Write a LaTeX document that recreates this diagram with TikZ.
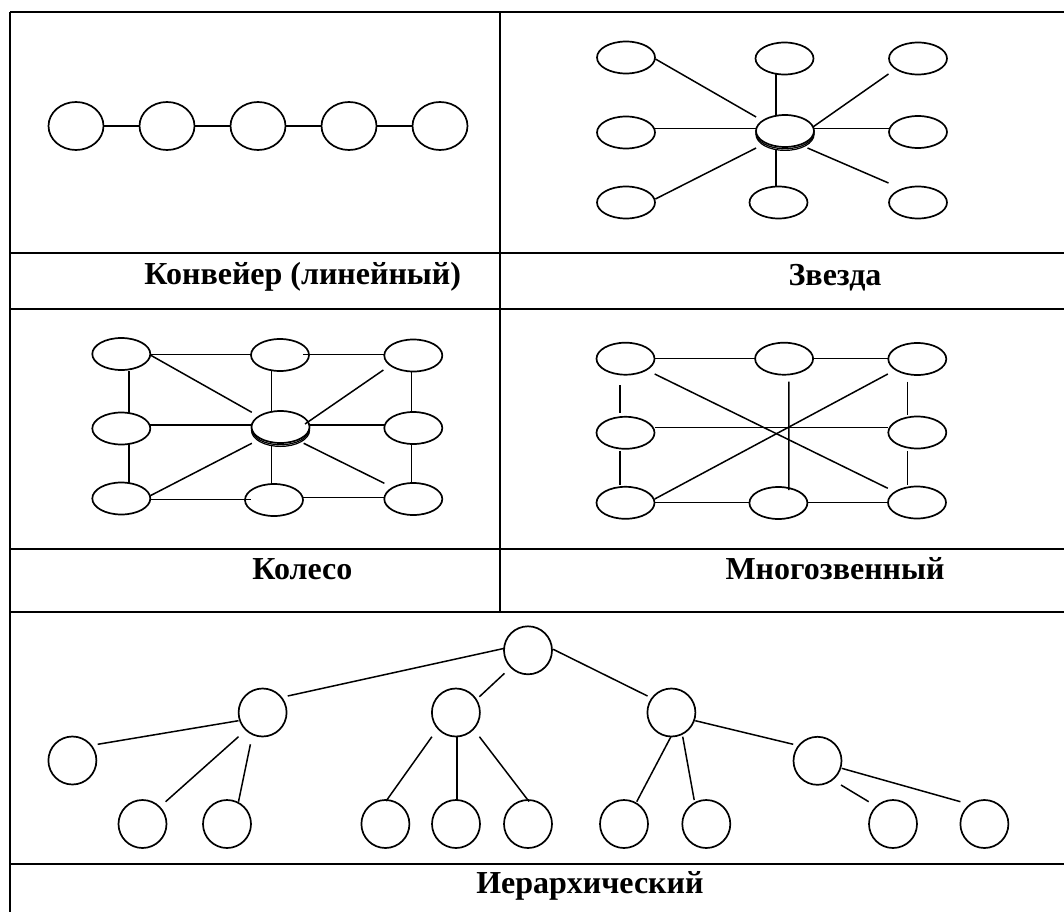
\documentclass[tikz,border=0pt]{standalone}
\usepackage{fontspec}
\setmainfont{Liberation Serif}
\usetikzlibrary{shapes.geometric,calc}
\newcommand{\conn}[4]{\draw ($(#1)+(#2)$) -- ($(#3)+(#4)$);}
\begin{document}
\begin{tikzpicture}[x=1pt,y=-1pt,line width=1.5pt,
  el/.style={draw,ellipse,fill=white,line width=1.7pt,inner sep=0pt,outer sep=0pt,minimum width=58pt,minimum height=32pt},
  lin/.style={el,minimum width=55pt,minimum height=48pt},
  cir/.style={draw,circle,fill=white,line width=1.7pt,inner sep=0pt,outer sep=0pt,minimum size=48pt},
  captxt/.style={anchor=base,inner sep=0pt,font=\fontsize{32}{38}\selectfont\bfseries},
  gridline/.style={line width=1.8pt}]
\useasboundingbox (0,0) rectangle (1064,912);
% table
\draw[gridline] (10,12) -- (1064,12);
\draw[gridline] (10,12) -- (10,912);
\draw[gridline] (500,12) -- (500,612);
\foreach \yy in {252.7,309.3,549.3,612,864} \draw[gridline] (10,\yy) -- (1064,\yy);
% captions
\node[captxt] (t1) at (302.8,284) {Конвейер (линейный)};
\node[captxt] (t2) at (835,285) {Звезда};
\node[captxt] (t3) at (302.4,579.3) {Колесо};
\node[captxt] (t4) at (835,579.3) {Многозвенный};
\node[captxt] (t5) at (589.9,893.3) {Иерархический};
% linear
\foreach \i/\xx in {1/76,2/167,3/258,4/349,5/440} \node[lin] (l\i) at (\xx,126) {};
\draw (l1) -- (l2); \draw (l2) -- (l3); \draw (l3) -- (l4); \draw (l4) -- (l5);
% star
\node[el,line width=1.2pt] (s0b) at (785,134.4) {};
\node[el,line width=1.2pt] (s0a) at (785,132.8) {};
\node[el] (s0) at (785,131) {};
\node[el] (s1) at (626,57.5) {};
\node[el] (s2) at (784.5,58.5) {};
\node[el] (s3) at (918,58.5) {};
\node[el] (s4) at (626,132.5) {};
\node[el] (s5) at (918,132) {};
\node[el] (s6) at (626,202.5) {};
\node[el] (s7) at (778.5,202.5) {};
\node[el] (s8) at (918,202.5) {};
\conn{s1}{29.4,1.5}{s0}{-28.9,-14}
\conn{s2}{-8.6,15.5}{s0}{-9.1,-16}
\conn{s3}{-29.5,15.5}{s0}{27.9,-4}
\conn{s4}{29.4,-4.2}{s0}{-29,-2.7}
\conn{s0}{27.9,-2.7}{s5}{-29.5,-3.7}
\conn{s6}{29.4,-3.5}{s0}{-28.9,17}
\conn{s0}{-9.1,19}{s7}{-2.6,-16.5}
\conn{s0}{22.5,17}{s8}{-29.5,-19.5}
% wheel
\node[el,line width=1.2pt] (w0b) at (280.5,430.4) {};
\node[el,line width=1.2pt] (w0a) at (280.5,428.8) {};
\node[el] (w0) at (280.5,427) {};
\node[el] (w1) at (121.3,354) {};
\node[el] (w2) at (280,355) {};
\node[el] (w3) at (413.3,355.5) {};
\node[el] (w4) at (121.3,428.5) {};
\node[el] (w5) at (413.3,428) {};
\node[el] (w6) at (121.3,498.5) {};
\node[el] (w7) at (274,500) {};
\node[el] (w8) at (413.3,499) {};
\conn{w1}{29,0.3}{w2}{-28.9,-0.7}
\conn{w2}{23,-0.7}{w3}{-28.9,-1.2}
\conn{w1}{29,1}{w0}{-28.7,-14.7}
\conn{w2}{-8.6,15}{w0}{-9.1,-15.3}
\conn{w3}{-29.9,14.5}{w0}{24.5,-3}
\conn{w1}{7.6,17}{w4}{7.6,-15.2}
\conn{w3}{-1.7,15.5}{w5}{-1.7,-15}
\conn{w4}{29,-3.5}{w0}{-28.7,-2}
\conn{w0}{28.9,-2}{w5}{-28.9,-3}
\conn{w4}{7.6,15.5}{w6}{7.6,-15.5}
\conn{w5}{-1.7,16}{w8}{-1.7,-16}
\conn{w6}{29,-2.8}{w0}{-28.7,16.3}
\conn{w0}{-9.1,18.7}{w7}{-2.6,-16.7}
\conn{w0}{23.2,16.3}{w8}{-28.9,-15.7}
\conn{w6}{29,0.8}{w7}{-22.9,-0.7}
\conn{w7}{29,-2.7}{w8}{-28.9,-1.7}
% multi-link
\node[el] (m1) at (625.5,358.7) {};
\node[el] (m2) at (784.1,358.7) {};
\node[el] (m3) at (917.3,359) {};
\node[el] (m4) at (625.5,432.8) {};
\node[el] (m5) at (917.3,432.5) {};
\node[el] (m6) at (625.5,502.8) {};
\node[el] (m7) at (778.4,503) {};
\node[el] (m8) at (917,502.5) {};
\conn{m1}{29.2,-0.4}{m2}{-28.7,-0.4}
\conn{m2}{28.8,-0.4}{m3}{-29.5,-0.7}
\conn{m1}{-5.7,26.3}{m4}{-5.7,-19.5}
\conn{m4}{-5.7,18.2}{m6}{-5.7,-17.8}
\conn{m3}{-9.8,22.7}{m5}{-9.8,-17.5}
\conn{m5}{-9.8,18.5}{m8}{-9.5,-17.5}
\conn{m4}{29.2,-5.1}{m5}{-29.5,-4.8}
\conn{m6}{29.2,-0.5}{m7}{-29.1,-0.7}
\conn{m7}{29.1,-0.7}{m8}{-29.2,-0.2}
\conn{m1}{29.2,15.3}{m8}{-29.2,-14.2}
\conn{m6}{29.2,-3.8}{m3}{-29.5,15}
\conn{m2}{4.7,23}{m7}{10.4,-13}
% hierarchy
\node[cir] (hr) at (528,650.3) {};
\node[cir] (hb) at (262.6,712.5) {};
\node[cir] (ha) at (72.4,760.5) {};
\node[cir] (hc) at (142.5,824) {};
\node[cir] (hd) at (227,824) {};
\node[cir] (he) at (455.9,712.5) {};
\node[cir] (hf) at (385.4,824) {};
\node[cir] (hg) at (456,824) {};
\node[cir] (hh) at (528,824) {};
\node[cir] (hi) at (671.4,712.5) {};
\node[cir] (hj) at (817.5,760.8) {};
\node[cir] (hk) at (624,824) {};
\node[cir] (hl) at (706.3,824) {};
\node[cir] (hm) at (893,824) {};
\node[cir] (hn) at (984.4,824) {};
\conn{hr}{-23.5,-2}{hb}{25.1,-16.5}
\conn{hb}{-24.1,8.2}{ha}{25.3,-16.2}
\conn{hb}{-24.1,24.2}{hc}{23.1,-22.3}
\conn{hb}{-12.2,31.8}{hd}{11.5,-22.3}
\conn{hr}{-23.5,23}{he}{23.5,-15.8}
\conn{he}{-24,24.2}{hf}{0.7,-23}
\conn{he}{1.1,24.2}{hg}{1,-23}
\conn{he}{23.5,24.2}{hh}{1,-22.5}
\conn{hr}{25.2,-1}{hi}{-23.9,-16.5}
\conn{hi}{-0.5,24.2}{hk}{12.7,-22.3}
\conn{hi}{11.3,24.2}{hl}{-12.1,-24}
\conn{hi}{23.9,8.2}{hj}{-24.3,-16.5}
\conn{hj}{23.5,24.2}{hm}{-24.3,-22.3}
\conn{hj}{24.2,7.5}{hn}{-24,-22.3}
\end{tikzpicture}
\end{document}
